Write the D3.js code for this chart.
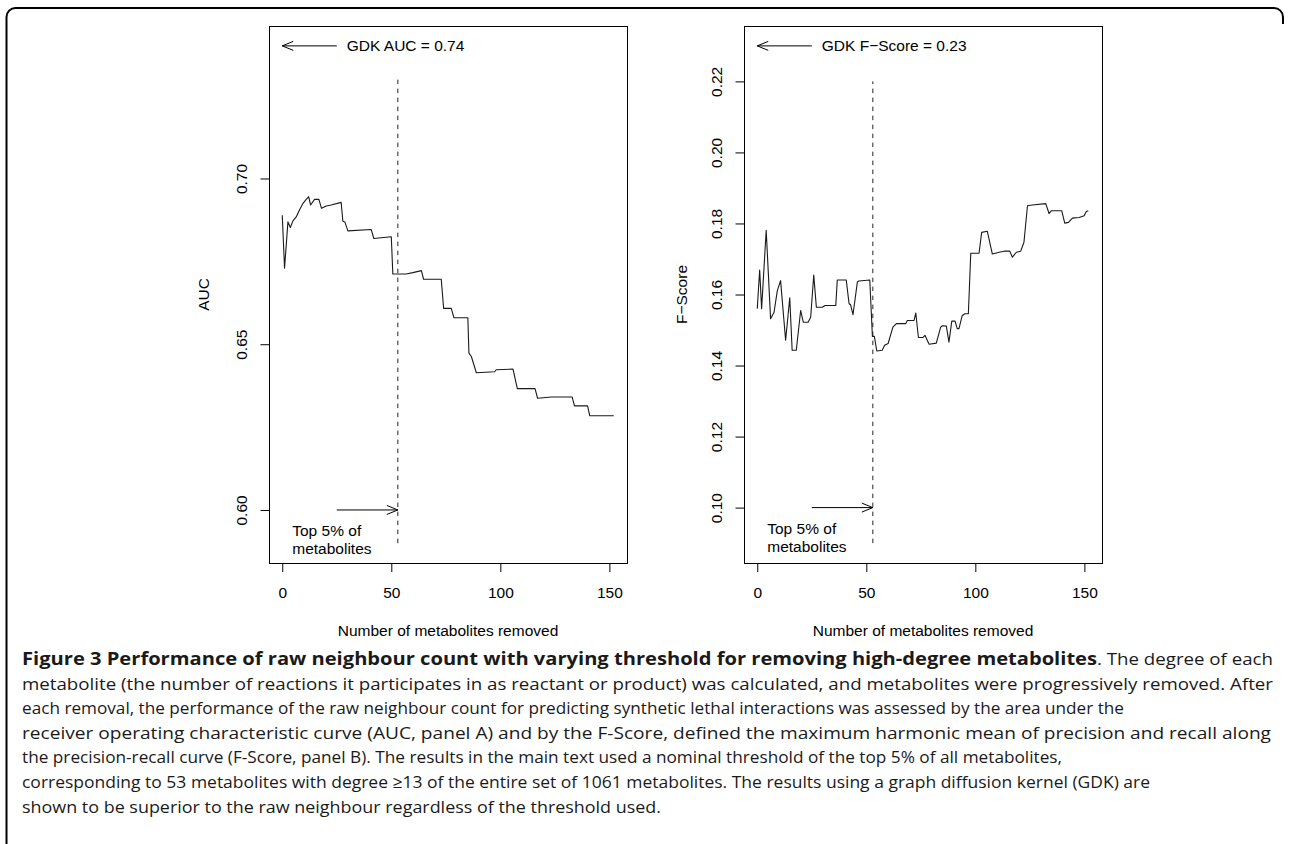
<!DOCTYPE html>
<html>
<head>
<meta charset="utf-8">
<script src="https://cdn.jsdelivr.net/npm/d3@7/dist/d3.min.js"></script>
<style>
  body { margin: 0; background: #fff; }
  svg { display: block; }
  .tick text, .lbl { font-family: "Liberation Sans", Arial, sans-serif; font-size: 15.5px; fill: #000; }
  .cap { font-family: "Open Sans", sans-serif; font-size: 17px; fill: #1a1a1a; }
</style>
</head>
<body>
<svg id="fig" width="1289" height="844"></svg>
<script>
/* global d3 */

// x axis (shared)
const xTicks = [0, 50, 100, 150];
const xLim = [0, 152];
const threshold = 53;      // top 5% of metabolites
const arrowFrom = 25;

// panel A: AUC
const aucTicks = [0.60, 0.65, 0.70];
const aucLim = [0.59, 0.74];
const aucGdk = 0.74;
const aucX = [0, 1.05, 2.6, 3.7, 4.9, 6.4, 7.9, 9.5, 11, 12.1, 13, 14.8, 16.8, 18, 20.2, 22.5, 27, 27.8, 28.7, 30.1,
  40.8, 42, 50, 50.7, 56.8, 59.9, 63.8, 64.8, 72.9, 74, 77.5, 78.7, 85.1, 85.6, 86.7, 89, 97.4, 98.1, 105.8, 107.8,
  115.9, 117.1, 123.4, 132.9, 134, 140, 141, 152];
const aucY = [0.6889, 0.6729, 0.6869, 0.6852, 0.6872, 0.6884, 0.6905, 0.6925, 0.6937, 0.6945, 0.692, 0.6937, 0.6937,
  0.691, 0.6917, 0.692, 0.6928, 0.6871, 0.6869, 0.6842, 0.6846, 0.6819, 0.6824, 0.6712, 0.6712, 0.6716, 0.6722, 0.6696,
  0.6696, 0.6608, 0.6608, 0.658, 0.658, 0.6473, 0.6463, 0.6414, 0.6417, 0.6423, 0.6425, 0.6366, 0.6366, 0.6337, 0.6341,
  0.6341, 0.6314, 0.6314, 0.6284, 0.6284];

// panel B: F-Score
const fTicks = [0.10, 0.12, 0.14, 0.16, 0.18, 0.20, 0.22];
const fLim = [0.09, 0.23];
const fGdk = 0.23;
const fX = [0, 1.1, 2, 4.1, 6.1, 7.7, 9.2, 10.7, 13, 14.9, 16, 17.9, 19.9, 21.1, 23.3, 24.5, 25.9, 27.1, 29.8, 31.1,
  36, 36.7, 40.8, 42.1, 42.8, 43.9, 45.9, 46.6, 51.6, 52.8, 53.7, 54.8, 57.3, 58.4, 60, 62.2, 63.8, 68.1, 68.8, 71.9,
  72.7, 73.9, 76, 76.9, 78.8, 82.1, 84.1, 84.9, 86.7, 87.9, 89.2, 90.7, 91.7, 92.5, 94, 95.3, 96.8, 97.9, 101.7, 102.9,
  105.5, 107.8, 110.9, 113.2, 115.8, 117, 118.8, 120.8, 122.3, 123.9, 126.1, 132.3, 133.8, 134.9, 139.6, 141, 142.7,
  144.5, 147.6, 149.9, 150.9, 151.8];
const fY = [0.156, 0.1669, 0.156, 0.1781, 0.1532, 0.155, 0.1611, 0.1639, 0.1471, 0.1591, 0.1443, 0.1443, 0.1555, 0.1522,
  0.1522, 0.1536, 0.1655, 0.1564, 0.1564, 0.1569, 0.1569, 0.1641, 0.1641, 0.1574, 0.1571, 0.1543, 0.1635, 0.1638, 0.1641,
  0.1482, 0.1482, 0.1441, 0.1443, 0.1457, 0.1462, 0.1508, 0.1518, 0.1518, 0.1527, 0.1527, 0.1548, 0.1479, 0.1479, 0.1485,
  0.146, 0.1463, 0.1508, 0.1512, 0.1511, 0.1466, 0.1525, 0.1525, 0.1504, 0.1504, 0.1541, 0.1546, 0.1546, 0.1716, 0.1716,
  0.1775, 0.1778, 0.1714, 0.1719, 0.1722, 0.1722, 0.1705, 0.1719, 0.1722, 0.1747, 0.185, 0.1852, 0.1856, 0.1828, 0.1836,
  0.1836, 0.1801, 0.1803, 0.1815, 0.1817, 0.1822, 0.1834, 0.1836];

// caption
const capBold = 'Figure 3 Performance of raw neighbour count with varying threshold for removing high-degree metabolites';
const capLines = [
  '. The degree of each',
  'metabolite (the number of reactions it participates in as reactant or product) was calculated, and metabolites were progressively removed. After',
  'each removal, the performance of the raw neighbour count for predicting synthetic lethal interactions was assessed by the area under the',
  'receiver operating characteristic curve (AUC, panel A) and by the F-Score, defined the maximum harmonic mean of precision and recall along',
  'the precision-recall curve (F-Score, panel B). The results in the main text used a nominal threshold of the top 5% of all metabolites,',
  'corresponding to 53 metabolites with degree \u226513 of the entire set of 1061 metabolites. The results using a graph diffusion kernel (GDK) are',
  'shown to be superior to the raw neighbour regardless of the threshold used.',
];

const svg = d3.select('#fig');

// R-style range padding (4% each side)
const pad = lim => {
  const d = (lim[1] - lim[0]) * 0.04;
  return [lim[0] - d, lim[1] + d];
};

const arrow = (g, x1, x2, y) => {
  g.append('line').attr('x1', x1).attr('x2', x2).attr('y1', y).attr('y2', y)
    .attr('stroke', '#000').attr('stroke-width', 1);
  const s = x2 > x1 ? -1 : 1;
  g.append('path')
    .attr('d', `M${x2 + s * 11},${y - 4.5}L${x2},${y}L${x2 + s * 11},${y + 4.5}`)
    .attr('fill', 'none').attr('stroke', '#000').attr('stroke-width', 1);
};

const drawPanel = (p) => {
  const x = d3.scaleLinear().domain(pad(xLim)).range([p.left, p.right]);
  const y = d3.scaleLinear().domain(pad(p.ylim)).range([563, 26]);
  const g = svg.append('g');

  // x axis
  const xa = g.append('g').attr('transform', 'translate(0,563)')
    .call(d3.axisBottom(x).tickValues(xTicks).tickSize(9).tickPadding(15).tickSizeOuter(0));
  xa.select('.domain').remove();
  xa.selectAll('line').attr('stroke', '#000');

  // y axis, labels rotated like R
  const ya = g.append('g').attr('transform', `translate(${p.left + 0.5},0)`)
    .call(d3.axisLeft(y).tickValues(p.yTicks).tickFormat(d3.format('.2f')).tickSize(9).tickSizeOuter(0));
  ya.select('.domain').remove();
  ya.selectAll('line').attr('stroke', '#000');
  ya.selectAll('text')
    .attr('transform', 'rotate(-90)')
    .attr('x', 0).attr('y', -22.5).attr('dy', 0)
    .attr('text-anchor', 'middle');

  // box
  g.append('rect')
    .attr('x', p.left + 0.5).attr('y', 26.5)
    .attr('width', p.right - p.left).attr('height', 537)
    .attr('fill', 'none').attr('stroke', '#000').attr('stroke-width', 1);

  // axis titles
  g.append('text').attr('class', 'lbl')
    .attr('x', (p.left + p.right) / 2).attr('y', 636)
    .attr('text-anchor', 'middle')
    .text('Number of metabolites removed');
  g.append('text').attr('class', 'lbl')
    .attr('transform', `translate(${p.left - p.ylabOff},${(26 + 563) / 2}) rotate(-90)`)
    .attr('text-anchor', 'middle')
    .text(p.ylab);

  // threshold line
  g.append('line')
    .attr('x1', x(threshold)).attr('x2', x(threshold))
    .attr('y1', y(p.ylim[0])).attr('y2', y(p.gdk - 0.01))
    .attr('stroke', '#222').attr('stroke-dasharray', '4.5,4.5');

  // data
  const pts = p.xs.map((v, i) => [v, p.ys[i]]);
  g.append('path')
    .attr('d', d3.line().x(d => x(d[0])).y(d => y(d[1]))(pts))
    .attr('fill', 'none').attr('stroke', '#1a1a1a').attr('stroke-width', 1.1)
    .attr('stroke-linejoin', 'round');

  // GDK reference arrow
  arrow(g, x(arrowFrom), x(0), y(p.gdk));
  g.append('text').attr('class', 'lbl')
    .attr('x', x(arrowFrom) + 10).attr('y', y(p.gdk) + 5.5)
    .text(p.gdkLabel);

  // top 5% arrow
  arrow(g, x(arrowFrom), x(threshold), y(p.yTicks[0]));
  const t = g.append('text').attr('class', 'lbl')
    .attr('x', x(0) + 10).attr('y', y(p.yTicks[0]) + 26.5);
  t.append('tspan').text('Top 5% of');
  t.append('tspan').attr('x', x(0) + 10).attr('dy', 17.5).text('metabolites');
};

drawPanel({
  left: 269, right: 627, ylim: aucLim, yTicks: aucTicks, xs: aucX, ys: aucY,
  gdk: aucGdk, gdkLabel: 'GDK AUC = 0.74', ylab: 'AUC', ylabOff: 60,
});
drawPanel({
  left: 744, right: 1102, ylim: fLim, yTicks: fTicks, xs: fX, ys: fY,
  gdk: fGdk, gdkLabel: 'GDK F\u2212Score = 0.23', ylab: 'F\u2212Score', ylabOff: 57,
});

// figure frame (rounded top corners)
svg.append('path')
  .attr('d', 'M6.5,850V17A9,9 0 0 1 15.5,8H1274A9,9 0 0 1 1283,17V24')
  .attr('fill', 'none').attr('stroke', '#000').attr('stroke-width', 2);

// caption, line widths matched to the page
const capEnds = [1273, 1273, 1124, 1271, 1062, 1150, 661];
const boldEnd = 1097;
svg.append('text').attr('class', 'cap')
  .attr('x', 22).attr('y', 665)
  .attr('font-weight', 'bold').attr('fill', '#111')
  .attr('textLength', boldEnd - 22).attr('lengthAdjust', 'spacingAndGlyphs')
  .text(capBold);
capLines.forEach((line, i) => {
  const x0 = i === 0 ? boldEnd : 22;
  svg.append('text').attr('class', 'cap')
    .attr('x', x0).attr('y', 665 + i * 24.6)
    .attr('textLength', capEnds[i] - x0).attr('lengthAdjust', 'spacingAndGlyphs')
    .text(line);
});
</script>
</body>
</html>
